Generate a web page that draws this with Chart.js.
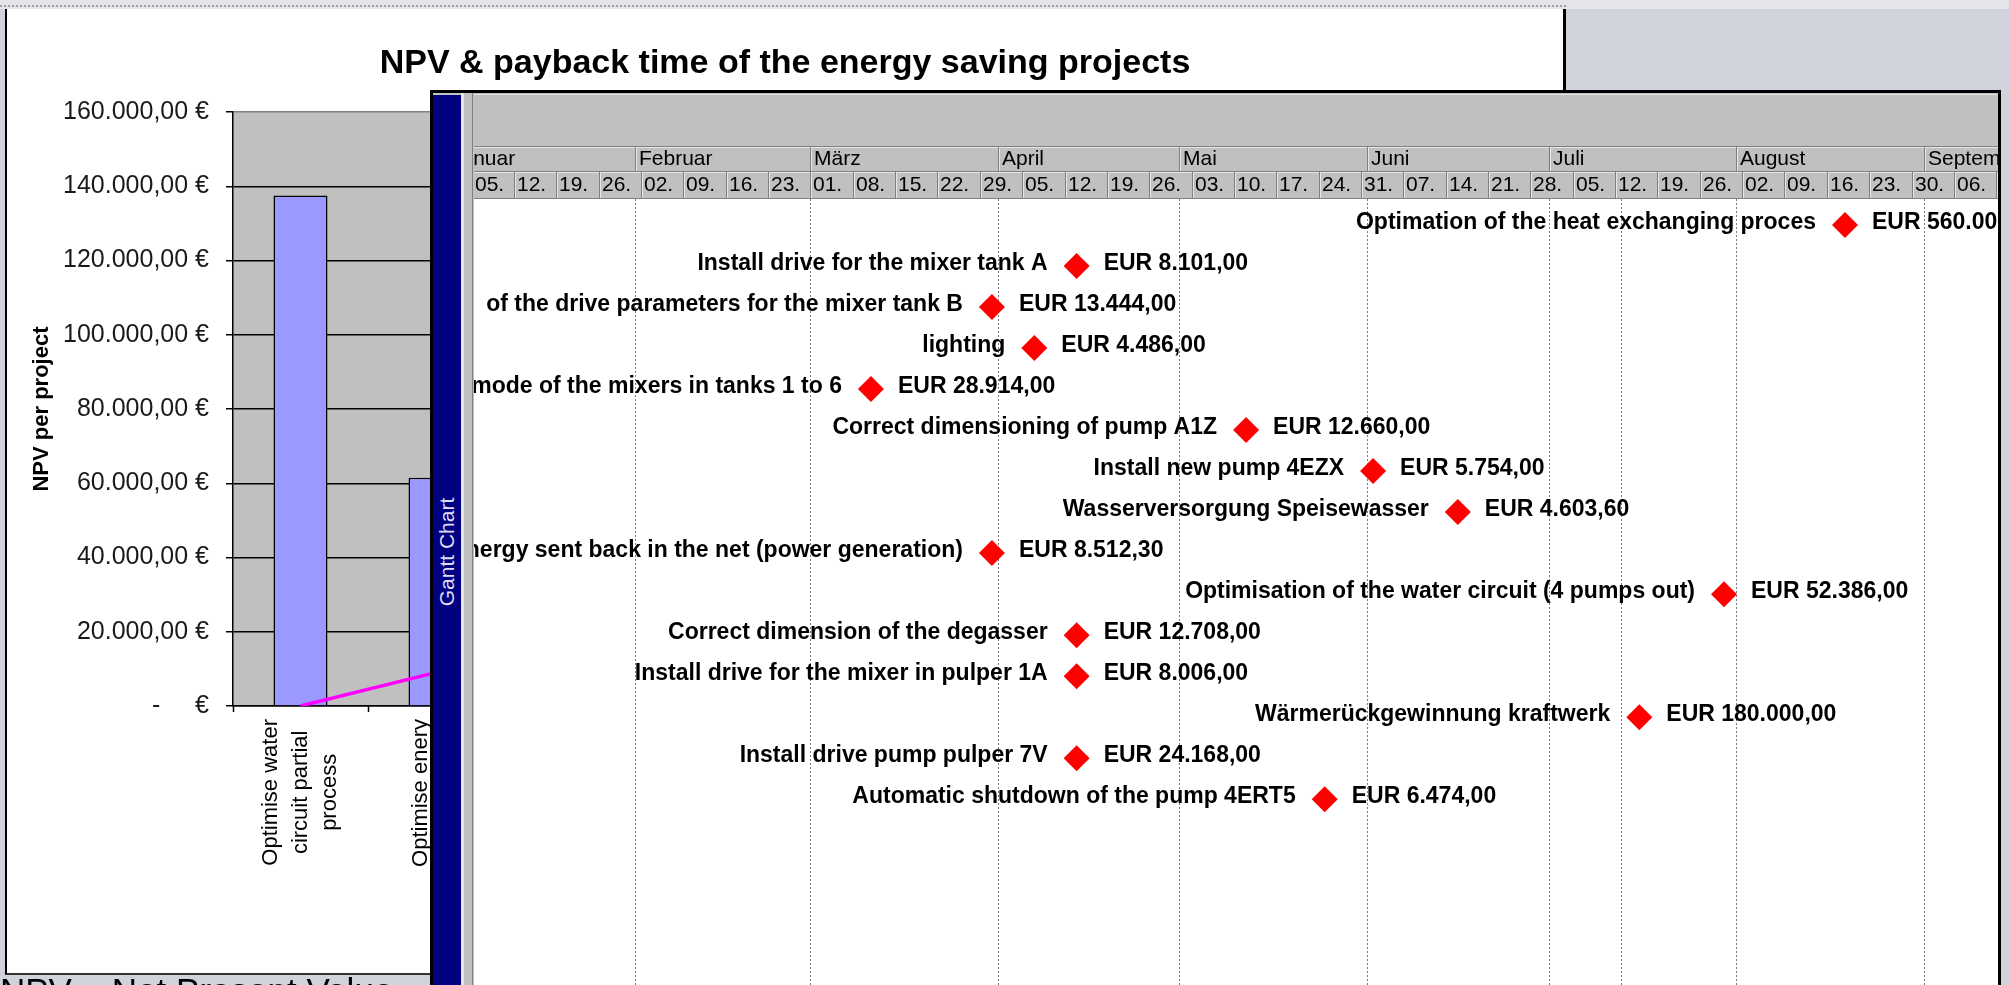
<!DOCTYPE html>
<html>
<head>
<meta charset="utf-8">
<script src="https://cdn.jsdelivr.net/npm/chart.js@4.4.0/dist/chart.umd.min.js"></script>
<style>
  html, body { margin: 0; padding: 0; }
  body {
    width: 2009px; height: 985px; overflow: hidden; position: relative;
    background: #d0d3db; font-family: "Liberation Sans", Arial, sans-serif;
  }
  #top-strip { position: absolute; left: 0; top: 0; width: 2009px; height: 9px; background: #e3e5ea; }
  #sel-line { position: absolute; left: 0; top: 5px; width: 1566px; border-top: 2px dotted #9c9ea4; }
  #excel {
    position: absolute; left: 5px; top: 9px; width: 1556px; height: 964px;
    background: #fff; border-left: 2px solid #000; border-right: 3px solid #000; border-bottom: 2px solid #333;
  }
  #excel canvas { position: absolute; left: 0; top: 0; }
  #footnote {
    position: absolute; left: 0; top: 973px; font-size: 35px; line-height: 35px;
    color: #000; white-space: nowrap;
  }
  #gantt {
    position: absolute; left: 430px; top: 90px; width: 1565px; height: 900px;
    border: 3px solid #000; border-bottom: none; background: #c0c0c0;
  }
  #gantt-bar { position: absolute; left: 0; top: 2px; width: 28px; bottom: 0; background: #000080; }
  #gantt-bar span {
    position: absolute; left: 14px; top: 457px; transform: translate(-50%, -50%) rotate(-90deg);
    color: #dcdcf4; font-size: 21px; white-space: nowrap;
  }
  #gantt-sep {
    position: absolute; left: 28px; top: 0; width: 13px; bottom: 0;
    background: linear-gradient(to right, #e6e6e6 0 3px, #c0c0c0 3px 11px, #808080 11px 12px, #c0c0c0 12px 13px);
  }
  #gantt canvas { position: absolute; left: 41px; top: 0; background: #fff; }
</style>
</head>
<body>
<div id="top-strip"></div>
<div id="sel-line"></div>
<div id="excel"><canvas id="npv-chart" width="1556" height="964"></canvas></div>
<div id="footnote">NPV = Net Present Value</div>
<div id="gantt">
  <div id="gantt-bar"><span>Gantt Chart</span></div>
  <div id="gantt-sep"></div>
  <canvas id="gantt-chart" width="1524" height="892"></canvas>
</div>

<script>
// ---------------------------------------------------------------
// Data: NPV chart (Excel part, mostly covered by the Gantt window)
// ---------------------------------------------------------------
const npvCategories = [
  ["Optimise water", "circuit partial", "process"],
  ["Optimise enery", ""],
];
const npvValues = [137500, 61500];
const paybackLine = [0, 9000]; // magenta line, read on the NPV scale
const npvMax = 160000;
const npvStep = 20000;
const npvTitle = "NPV & payback time of the energy saving projects";

// ---------------------------------------------------------------
// Data: Gantt milestones (2004)
// ---------------------------------------------------------------
const taskNames = [
  "Optimation of the heat exchanging proces",
  "Install drive for the mixer tank A",
  "of the drive parameters for the mixer tank B",
  "lighting",
  "mode of the mixers in tanks 1 to 6",
  "Correct dimensioning of pump A1Z",
  "Install new pump 4EZX",
  "Wasserversorgung Speisewasser",
  "Energy sent back in the net (power generation)",
  "Optimisation of the water circuit (4 pumps out)",
  "Correct dimension of the degasser",
  "Install drive for the mixer in pulper 1A",
  "Wärmerückgewinnung kraftwerk",
  "Install drive pump pulper 7V",
  "Automatic shutdown of the pump 4ERT5",
];
const taskCosts = [560000, 8101, 13444, 4486, 28914, 12660, 5754, 4603.6, 8512.3, 52386, 12708, 8006, 180000, 24168, 6474];
const taskDates = [
  "2004-08-19", "2004-04-14", "2004-03-31", "2004-04-07", "2004-03-11",
  "2004-05-12", "2004-06-02", "2004-06-16", "2004-03-31", "2004-07-30",
  "2004-04-14", "2004-04-14", "2004-07-16", "2004-04-14", "2004-05-25",
];
const monthNames = ["Januar", "Februar", "März", "April", "Mai", "Juni", "Juli", "August", "September", "Oktober"];
const statusDate = "2004-07-13";

// visible window of the timescale (day of year) and of the rows
const viewFirstDay = 4.39;
const viewLastDay = 256.29;
const rowFirst = -0.634;
const rowLast = 18.53;

// ---------------------------------------------------------------
// Helpers
// ---------------------------------------------------------------
const doy = (s) => {
  const [y, m, d] = s.split("-").map(Number);
  return (Date.UTC(y, m - 1, d) - Date.UTC(2004, 0, 1)) / 864e5;
};
const fmtDe = (v) => {
  const [i, d] = Math.abs(v).toFixed(2).split(".");
  return i.replace(/\B(?=(\d{3})+(?!\d))/g, ".") + "," + d;
};
const SANS = '"Liberation Sans", Arial, sans-serif';

// ---------------------------------------------------------------
// Plugins for the NPV chart
// ---------------------------------------------------------------
const plotBackground = {
  id: "plotBackground",
  beforeDraw(chart) {
    const { ctx, chartArea: a } = chart;
    ctx.save();
    ctx.fillStyle = "#c0c0c0";
    ctx.fillRect(a.left, a.top, a.right - a.left, a.bottom - a.top);
    ctx.restore();
  },
};

const excelTitle = {
  id: "excelTitle",
  afterDraw(chart) {
    const ctx = chart.ctx;
    ctx.save();
    ctx.font = "bold 34px " + SANS;
    ctx.fillStyle = "#000";
    ctx.textAlign = "center";
    ctx.textBaseline = "middle";
    ctx.fillText(npvTitle, chart.width / 2, 55);
    ctx.restore();
  },
};

// rotated, centred multi-line category labels (Excel style)
const rotatedLabels = {
  id: "rotatedLabels",
  afterDraw(chart) {
    const { ctx } = chart;
    const xs = chart.scales.x;
    ctx.save();
    ctx.font = "22px " + SANS;
    ctx.fillStyle = "#000";
    ctx.textAlign = "center";
    ctx.textBaseline = "middle";
    npvCategories.forEach((lines, i) => {
      const cx = xs.getPixelForValue(i);
      const len = Math.max(...lines.map((l) => ctx.measureText(l).width));
      const cy = xs.top + 13 + len / 2;
      lines.forEach((l, j) => {
        const lx = cx + (j - (lines.length - 1) / 2) * 29.5;
        ctx.save();
        ctx.translate(lx, cy);
        ctx.rotate(-Math.PI / 2);
        ctx.fillText(l, 0, 0);
        ctx.restore();
      });
    });
    ctx.restore();
  },
};

new Chart(document.getElementById("npv-chart"), {
  type: "bar",
  data: {
    labels: npvCategories,
    datasets: [
      {
        type: "line",
        label: "Payback",
        data: paybackLine,
        borderColor: "#ff00ff",
        borderWidth: 3.5,
        pointRadius: 0,
        fill: false,
        tension: 0,
        order: 0,
      },
      {
        type: "bar",
        label: "NPV",
        data: npvValues,
        backgroundColor: "#9999ff",
        borderColor: "#000",
        borderWidth: 1.5,
        barPercentage: 0.4,
        categoryPercentage: 1,
        order: 1,
      },
    ],
  },
  options: {
    responsive: false,
    animation: false,
    events: [],
    layout: { autoPadding: false, padding: { top: 103, right: 1060 } },
    plugins: { legend: { display: false }, tooltip: { enabled: false } },
    scales: {
      x: {
        offset: true,
        grid: { offset: true, drawOnChartArea: false, tickLength: 6, tickColor: "#000", tickWidth: 1.5 },
        border: { color: "#000", width: 1.5 },
        ticks: { display: false },
        afterFit: (s) => { s.height = 267; },
      },
      y: {
        min: 0,
        max: npvMax,
        ticks: {
          stepSize: npvStep,
          padding: 17,
          color: "#1a1a1a",
          font: { family: SANS, size: 25 },
          callback: (v) => (v === 0 ? "-     €" : fmtDe(v) + " €"),
        },
        grid: {
          color: (c) => (c.tick && c.tick.value === npvMax ? "#808080" : "#000"),
          lineWidth: 1.5,
          tickLength: 7,
          tickColor: "#000",
        },
        border: { color: "#000", width: 1.5 },
        title: {
          display: true,
          text: "NPV per project",
          color: "#000",
          font: { family: SANS, size: 22, weight: "bold" },
          padding: { top: 22, bottom: 0 },
        },
        afterFit: (s) => { s.width = 226; },
      },
    },
  },
  plugins: [plotBackground, excelTitle, rotatedLabels],
});

// ---------------------------------------------------------------
// Plugins for the Gantt view
// ---------------------------------------------------------------
const monthStarts = monthNames.map((n, m) => ({ name: n, day: (Date.UTC(2004, m, 1) - Date.UTC(2004, 0, 1)) / 864e5 }));
const weekStarts = [];
for (let d = doy("2004-01-05") - 7; d < viewLastDay + 7; d += 7) weekStarts.push(d);

const ganttHeader = {
  id: "ganttHeader",
  beforeDatasetsDraw(chart) {
    const { ctx, chartArea: a } = chart;
    const x = chart.scales.x;
    const W = chart.width;
    const mTop = 53, dTop = 78, dBot = a.top - 1;
    ctx.save();
    ctx.fillStyle = "#c0c0c0";
    ctx.fillRect(0, 0, W, a.top);
    ctx.fillStyle = "#e2e2e2";
    ctx.fillRect(0, 1, W, 1);

    // row borders
    ctx.fillStyle = "#808080";
    ctx.fillRect(0, mTop, W, 1);
    ctx.fillRect(0, dTop, W, 1);
    ctx.fillRect(0, dBot, W, 1);
    ctx.fillStyle = "#e6e6e6";
    ctx.fillRect(0, mTop + 1, W, 1);
    ctx.fillRect(0, dTop + 1, W, 1);

    ctx.font = "21px " + SANS;
    ctx.textBaseline = "middle";
    ctx.textAlign = "left";

    monthStarts.forEach((m) => {
      const px = Math.round(x.getPixelForValue(m.day));
      ctx.fillStyle = "#808080";
      ctx.fillRect(px, mTop, 1, dTop - mTop);
      ctx.fillStyle = "#e6e6e6";
      ctx.fillRect(px + 1, mTop + 1, 1, dTop - mTop - 1);
      ctx.fillStyle = "#000";
      ctx.fillText(m.name, px + 4, (mTop + dTop) / 2 + 1);
    });

    weekStarts.forEach((d) => {
      const px = Math.round(x.getPixelForValue(d));
      const date = new Date(Date.UTC(2004, 0, 1) + d * 864e5);
      const label = String(date.getUTCDate()).padStart(2, "0") + ".";
      ctx.fillStyle = "#808080";
      ctx.fillRect(px, dTop, 1, dBot - dTop);
      ctx.fillStyle = "#e6e6e6";
      ctx.fillRect(px + 1, dTop + 1, 1, dBot - dTop - 1);
      ctx.fillStyle = "#000";
      ctx.fillText(label, px + 3, (dTop + dBot) / 2 + 1);
    });

    // dotted lines in the body: month starts and status date
    ctx.strokeStyle = "#7a7a7a";
    ctx.lineWidth = 1;
    ctx.setLineDash([2, 2]);
    const lines = monthStarts.map((m) => m.day).concat([doy(statusDate)]);
    lines.forEach((d) => {
      const px = Math.round(x.getPixelForValue(d)) + 0.5;
      if (px < a.left || px > a.right) return;
      ctx.beginPath();
      ctx.moveTo(px, a.top);
      ctx.lineTo(px, a.bottom);
      ctx.stroke();
    });
    ctx.restore();
  },
};

const ganttLabels = {
  id: "ganttLabels",
  afterDatasetsDraw(chart) {
    const { ctx, chartArea: a } = chart;
    const meta = chart.getDatasetMeta(0);
    ctx.save();
    ctx.beginPath();
    ctx.rect(a.left, a.top, a.right - a.left, a.bottom - a.top);
    ctx.clip();
    ctx.font = "bold 23px " + SANS;
    ctx.fillStyle = "#000";
    ctx.textBaseline = "alphabetic";
    meta.data.forEach((pt, i) => {
      ctx.textAlign = "right";
      ctx.fillText(taskNames[i], pt.x - 29, pt.y + 4);
      ctx.textAlign = "left";
      ctx.fillText("EUR " + fmtDe(taskCosts[i]), pt.x + 27, pt.y + 4);
    });
    ctx.restore();
  },
};

new Chart(document.getElementById("gantt-chart"), {
  type: "scatter",
  data: {
    datasets: [
      {
        label: "Milestones",
        data: taskDates.map((d, i) => ({ x: doy(d), y: i })),
        pointStyle: "rectRot",
        pointRadius: 13,
        pointHoverRadius: 13,
        backgroundColor: "#ff0000",
        borderColor: "#ff0000",
        borderWidth: 0,
        clip: false,
      },
    ],
  },
  options: {
    responsive: false,
    animation: false,
    events: [],
    layout: { autoPadding: false, padding: { top: 106 } },
    plugins: { legend: { display: false }, tooltip: { enabled: false } },
    scales: {
      x: { type: "linear", display: false, min: viewFirstDay, max: viewLastDay },
      y: { type: "linear", display: false, min: rowFirst, max: rowLast, reverse: true },
    },
  },
  plugins: [ganttHeader, ganttLabels],
});
</script>
</body>
</html>
